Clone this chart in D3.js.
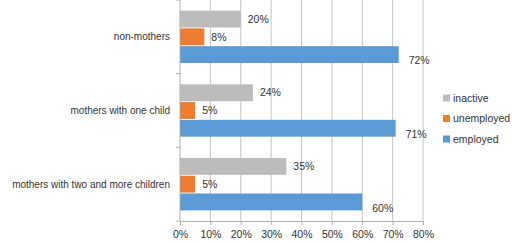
<!DOCTYPE html>
<html>
<head>
    <meta charset="utf-8">
    <script src="https://d3js.org/d3.v7.min.js"></script>
    <style>
        html, body { margin: 0; padding: 0; background: white; }
        text { font-family: "Liberation Sans", Arial, sans-serif; fill: #333; }
    </style>
</head>
<body>
    <div id="chart"></div>
    <script>
        // Data
        const categories = ["non-mothers", "mothers with one child", "mothers with two and more children"];
        const seriesNames = ["inactive", "unemployed", "employed"];
        const inactive = [0.20, 0.24, 0.35];
        const unemployed = [0.08, 0.05, 0.05];
        const employed = [0.72, 0.71, 0.60];
        const xTicks = [0, 0.1, 0.2, 0.3, 0.4, 0.5, 0.6, 0.7, 0.8];

        const seriesValues = { inactive, unemployed, employed };
        const colors = { inactive: "#bcbcbc", unemployed: "#ed7d31", employed: "#5b9bd5" };

        const W = 512, H = 243;
        const plot = { left: 180, right: 423, top: 0, bottom: 221 };

        const svg = d3.select("#chart").append("svg")
            .attr("width", W)
            .attr("height", H);

        const x = d3.scaleLinear().domain([0, 0.8]).range([plot.left, plot.right]);
        const y = d3.scaleBand().domain(categories).range([plot.top, plot.bottom]);
        const ySub = d3.scaleBand().domain(seriesNames)
            .range([0, y.bandwidth()])
            .paddingInner(0.05)
            .paddingOuter(0.6);

        // gridlines
        svg.append("g")
            .selectAll("line")
            .data(xTicks.slice(1))
            .join("line")
            .attr("x1", d => x(d)).attr("x2", d => x(d))
            .attr("y1", plot.top).attr("y2", plot.bottom)
            .attr("stroke", "#c4c4c4")
            .attr("stroke-width", 1);

        // bars
        const rows = [];
        categories.forEach((c, i) => {
            seriesNames.forEach(s => rows.push({ cat: c, series: s, value: seriesValues[s][i] }));
        });

        svg.append("g")
            .selectAll("rect")
            .data(rows)
            .join("rect")
            .attr("x", x(0))
            .attr("y", d => y(d.cat) + ySub(d.series))
            .attr("width", d => x(d.value) - x(0))
            .attr("height", ySub.bandwidth())
            .attr("fill", d => colors[d.series]);

        // value labels (employed labels sit a bit lower and further right in the original)
        svg.append("g")
            .selectAll("text")
            .data(rows)
            .join("text")
            .attr("x", d => x(d.value) + (d.series === "employed" ? 10 : 7))
            .attr("y", d => y(d.cat) + ySub(d.series) + ySub.bandwidth() / 2 + (d.series === "employed" ? 6 : 0))
            .attr("dy", "0.35em")
            .style("font-size", "10.5px")
            .text(d => Math.round(d.value * 100) + "%");

        // bottom axis
        const xAxis = svg.append("g")
            .attr("transform", `translate(0,${plot.bottom})`)
            .call(d3.axisBottom(x).tickValues(xTicks).tickFormat(d3.format(".0%")).tickSize(4).tickPadding(6));
        xAxis.select(".domain").attr("stroke", "#b0b0b0");
        xAxis.selectAll(".tick line").attr("stroke", "#b0b0b0");
        xAxis.selectAll("text").style("font-size", "10.5px").attr("fill", "#333")
            .style("font-family", "'Liberation Sans', Arial, sans-serif");

        // left axis with ticks at category boundaries
        svg.append("line")
            .attr("x1", x(0)).attr("x2", x(0))
            .attr("y1", plot.top).attr("y2", plot.bottom)
            .attr("stroke", "#b0b0b0");
        const boundaries = categories.map(c => y(c)).concat([plot.bottom]);
        svg.append("g")
            .selectAll("line")
            .data(boundaries)
            .join("line")
            .attr("x1", x(0) - 4).attr("x2", x(0))
            .attr("y1", d => d).attr("y2", d => d)
            .attr("stroke", "#b0b0b0");

        svg.append("g")
            .selectAll("text")
            .data(categories)
            .join("text")
            .attr("x", x(0) - 10)
            .attr("y", d => y(d) + y.bandwidth() / 2)
            .attr("dy", "0.35em")
            .attr("text-anchor", "end")
            .style("font-size", "10px")
            .text(d => d);

        // legend
        const legendY = d3.scalePoint().domain(seriesNames).range([98, 139]);
        const legend = svg.append("g");
        seriesNames.forEach(s => {
            legend.append("rect")
                .attr("x", 443)
                .attr("y", legendY(s) - 3.5)
                .attr("width", 7)
                .attr("height", 7)
                .attr("fill", colors[s]);
            legend.append("text")
                .attr("x", 453)
                .attr("y", legendY(s))
                .attr("dy", "0.35em")
                .style("font-size", "10.5px")
                .text(s);
        });
    </script>
</body>
</html>
